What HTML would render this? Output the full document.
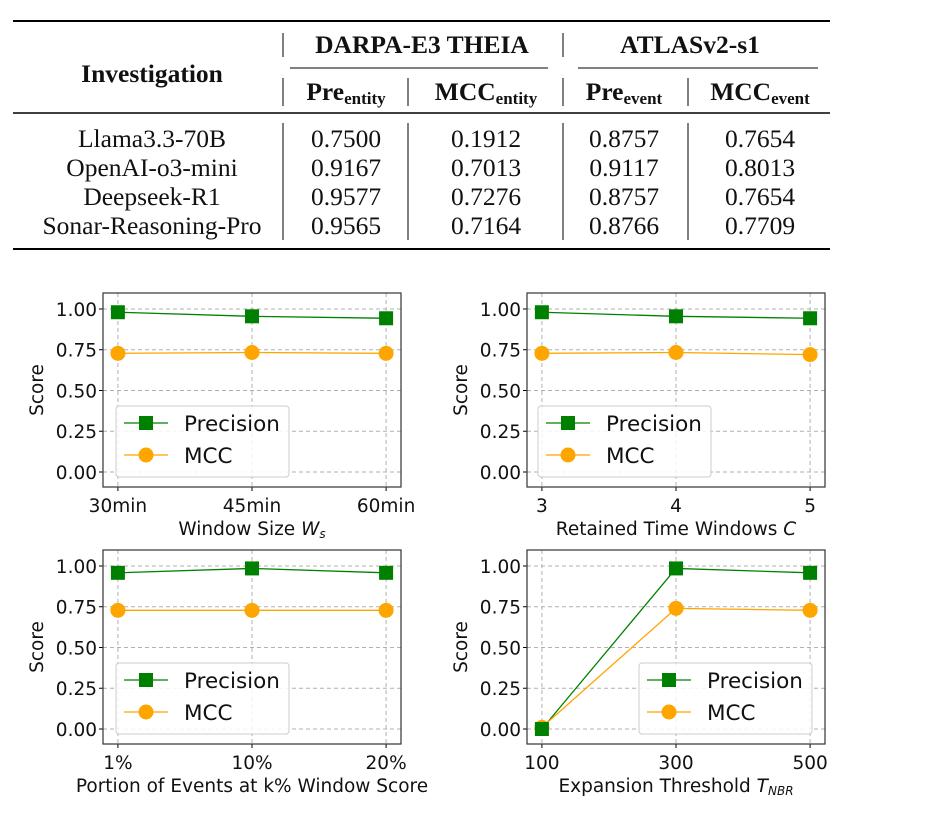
<!DOCTYPE html>
<html><head><meta charset="utf-8"><style>
html,body{margin:0;padding:0;background:#fff;}
svg{display:block;}
.t{font-family:"Liberation Serif",serif;font-size:25.5px;fill:#111;}
.b{font-weight:bold;}
.tk{font-family:"DejaVu Sans","Liberation Sans",sans-serif;font-size:18.5px;fill:#111;}
.lg{font-family:"DejaVu Sans","Liberation Sans",sans-serif;font-size:21.5px;fill:#111;}
</style></head><body>
<svg id="svg" width="932" height="822" viewBox="0 0 932 822" xmlns="http://www.w3.org/2000/svg">
<g>
<line x1="13" y1="21" x2="830" y2="21" stroke="#000" stroke-width="2"/>
<line x1="13" y1="113" x2="830" y2="113" stroke="#000" stroke-width="1.5"/>
<line x1="13" y1="249" x2="830" y2="249" stroke="#000" stroke-width="2"/>
<line x1="290" y1="68" x2="548" y2="68" stroke="#000" stroke-width="1"/>
<line x1="578" y1="68" x2="818" y2="68" stroke="#000" stroke-width="1"/>
<line x1="283" y1="33" x2="283" y2="57" stroke="#000"/>
<line x1="563" y1="33" x2="563" y2="57" stroke="#000"/>
<line x1="283" y1="78" x2="283" y2="106" stroke="#000"/>
<line x1="408" y1="78" x2="408" y2="106" stroke="#000"/>
<line x1="563" y1="78" x2="563" y2="106" stroke="#000"/>
<line x1="688" y1="78" x2="688" y2="106" stroke="#000"/>
<line x1="283" y1="123" x2="283" y2="240" stroke="#000"/>
<line x1="408" y1="123" x2="408" y2="240" stroke="#000"/>
<line x1="563" y1="123" x2="563" y2="240" stroke="#000"/>
<line x1="688" y1="123" x2="688" y2="240" stroke="#000"/>
<text class="t b" x="152" y="82" text-anchor="middle">Investigation</text>
<text class="t b" x="422" y="53" text-anchor="middle">DARPA-E3 THEIA</text>
<text class="t b" x="690" y="53" text-anchor="middle">ATLASv2-s1</text>
<text class="t b" x="346" y="100" text-anchor="middle">Pre<tspan font-size="17" dy="4">entity</tspan></text>
<text class="t b" x="486" y="100" text-anchor="middle">MCC<tspan font-size="17" dy="4">entity</tspan></text>
<text class="t b" x="624" y="100" text-anchor="middle">Pre<tspan font-size="17" dy="4">event</tspan></text>
<text class="t b" x="760" y="100" text-anchor="middle">MCC<tspan font-size="17" dy="4">event</tspan></text>
<g id="rows"></g>
</g>
<g id="charts"></g>
</svg>
<script>
const NS="http://www.w3.org/2000/svg";
const tableModels=["Llama3.3-70B","OpenAI-o3-mini","Deepseek-R1","Sonar-Reasoning-Pro"];
const preEntity=["0.7500","0.9167","0.9577","0.9565"];
const mccEntity=["0.1912","0.7013","0.7276","0.7164"];
const preEvent=["0.8757","0.9117","0.8757","0.8766"];
const mccEvent=["0.7654","0.8013","0.7654","0.7709"];

const c1Cats=["30min","45min","60min"];
const c1Prec=[0.98,0.955,0.943];
const c1Mcc=[0.728,0.733,0.728];
const c2Cats=["3","4","5"];
const c2Prec=[0.98,0.955,0.943];
const c2Mcc=[0.728,0.733,0.72];
const c3Cats=["1%","10%","20%"];
const c3Prec=[0.958,0.985,0.958];
const c3Mcc=[0.728,0.728,0.728];
const c4Cats=["100","300","500"];
const c4Prec=[0.0,0.985,0.958];
const c4Mcc=[0.01,0.74,0.728];
const yTicks=[0,0.25,0.5,0.75,1.0];
const yTickLabels=["0.00","0.25","0.50","0.75","1.00"];

function mk(tag,attrs,parent){const e=document.createElementNS(NS,tag);for(const k in attrs)e.setAttribute(k,attrs[k]);parent.appendChild(e);return e;}

const rows=document.getElementById('rows');
const colX=[152,346,486,624,760];
for(let i=0;i<tableModels.length;i++){
  const y=147+i*29;
  const vals=[tableModels[i],preEntity[i],mccEntity[i],preEvent[i],mccEvent[i]];
  vals.forEach((v,j)=>{
    const t=mk('text',{class:'t',x:colX[j],y:y,'text-anchor':'middle'},rows);
    
    
    t.textContent=v;
  });
}

const charts=document.getElementById('charts');
function drawChart(bx,by,cats,prec,mcc,xlabel,legendX,name){
  const W=298,H=194,ymin=-0.092,ymax=1.098;
  const g=mk('g',{},charts);
  
  
  const n=cats.length;
  const pad=0.05*W;
  const xs=i=>bx+pad+(W-2*pad)*i/(n-1);
  const ys=v=>by+H-(v-ymin)/(ymax-ymin)*H;
  yTicks.forEach((v,i)=>{
    mk('line',{x1:bx,x2:bx+W,y1:ys(v),y2:ys(v),stroke:'#b0b0b0','stroke-dasharray':'4,3','stroke-width':1},g);
    mk('line',{x1:bx-4,x2:bx,y1:ys(v),y2:ys(v),stroke:'#000'},g);
    const t=mk('text',{class:'tk',x:bx-6,y:ys(v)+7,'text-anchor':'end'},g);
    
    
    t.textContent=yTickLabels[i];
  });
  cats.forEach((c,i)=>{
    mk('line',{x1:xs(i),x2:xs(i),y1:by,y2:by+H,stroke:'#b0b0b0','stroke-dasharray':'4,3','stroke-width':1},g);
    mk('line',{x1:xs(i),x2:xs(i),y1:by+H,y2:by+H+4,stroke:'#000'},g);
    const t=mk('text',{class:'tk',x:xs(i),y:by+H+25,'text-anchor':'middle'},g);
    
    
    t.textContent=c;
  });
  mk('rect',{x:bx,y:by,width:W,height:H,fill:'none',stroke:'#333','stroke-width':1.2},g);
  const xl=mk('text',{class:'tk',x:bx+W/2,y:by+H+48,'text-anchor':'middle'},g);
  
  
  xl.innerHTML=xlabel;
  const yl=mk('text',{class:'tk',x:0,y:0,'text-anchor':'middle',transform:`translate(${bx-60},${by+H/2}) rotate(-90)`},g);
  
  
  yl.textContent='Score';
  const series=[[prec,'#008000','sq','precision-line'],[mcc,'#ffa500','ci','mcc-line']];
  series.forEach(([d,col,m,nm])=>{
    const pl=mk('polyline',{points:d.map((v,i)=>xs(i)+','+ys(v)).join(' '),fill:'none',stroke:col,'stroke-width':1.3},g);
    
    
  });
  series.slice().reverse().forEach(([d,col,m])=>{
    d.forEach((v,i)=>{
      let e;
      if(m==='sq') e=mk('rect',{x:xs(i)-7,y:ys(v)-7,width:14,height:14,fill:col},g);
      else e=mk('circle',{cx:xs(i),cy:ys(v),r:7.5,fill:col},g);
      
      
    });
  });
  const lg=mk('g',{},g);
  
  
  const ly=by+113;
  mk('rect',{x:legendX,y:ly,width:173,height:71,rx:3,fill:'#fff','fill-opacity':0.85,stroke:'#ccc'},lg);
  [['Precision','#008000','sq',17],['MCC','#ffa500','ci',49]].forEach(([lab,col,m,dy])=>{
    mk('line',{x1:legendX+8,x2:legendX+52,y1:ly+dy,y2:ly+dy,stroke:col,'stroke-width':1.3},lg);
    if(m==='sq') mk('rect',{x:legendX+23,y:ly+dy-7,width:14,height:14,fill:col},lg);
    else mk('circle',{cx:legendX+30,cy:ly+dy,r:7.5,fill:col},lg);
    const t=mk('text',{class:'lg',x:legendX+68,y:ly+dy+8},lg);
    
    
    t.textContent=lab;
  });
}
drawChart(103,293,c1Cats,c1Prec,c1Mcc,'Window Size <tspan font-style="italic">W</tspan><tspan font-style="italic" font-size="12" dy="3">s</tspan>',116,'chart-window-size');
drawChart(527,293,c2Cats,c2Prec,c2Mcc,'Retained Time Windows <tspan font-style="italic">C</tspan>',538,'chart-retained-windows');
drawChart(103,550,c3Cats,c3Prec,c3Mcc,'Portion of Events at k% Window Score',116,'chart-portion-events');
drawChart(527,550,c4Cats,c4Prec,c4Mcc,'Expansion Threshold <tspan font-style="italic">T</tspan><tspan font-style="italic" font-size="12" dy="3">NBR</tspan>',639,'chart-expansion-threshold');
</script>
</body></html>
